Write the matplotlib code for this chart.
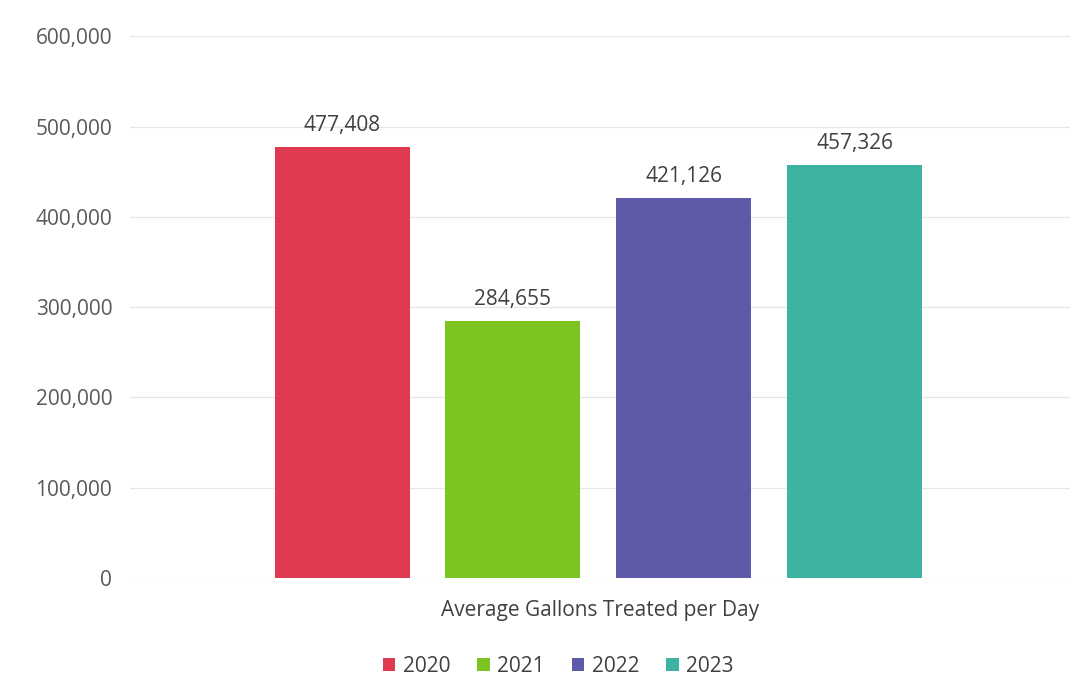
import matplotlib.pyplot as plt
from matplotlib.ticker import FuncFormatter

years = ['2020', '2021', '2022', '2023']
gallons = [477408, 284655, 421126, 457326]
colors = ['#DE3B53', '#7CC420', '#5E59A8', '#3DB3A2']

plt.rcParams['font.family'] = ['Open Sans', 'DejaVu Sans']

fig = plt.figure(figsize=(10.86, 6.99), dpi=100)
ax = fig.add_axes([0.12, 0.173, 0.865, 0.775])

x = range(len(years))
bars = ax.bar(x, gallons, width=0.79, color=colors, label=years, zorder=2)

for i, v in enumerate(gallons):
    ax.text(i, v + 12000, f'{v:,}', ha='center', va='bottom',
            fontsize=15, color='#404040')

ax.set_xlim(-1.24, 4.26)
ax.set_ylim(0, 600000)
ax.set_yticks(range(0, 600001, 100000))
ax.yaxis.set_major_formatter(FuncFormatter(lambda v, p: f'{int(v):,}'))
ax.tick_params(axis='y', length=0, pad=13, labelsize=15, labelcolor='#595959')
ax.set_xticks([])
ax.grid(axis='y', color='#E6E6E6', linewidth=0.9, zorder=0)
for s in ax.spines.values():
    s.set_visible(False)

ax.set_xlabel('Average Gallons Treated per Day', fontsize=15,
              color='#404040', labelpad=16)

fig.legend(handles=list(bars), labels=years, loc='center',
           bbox_to_anchor=(0.514, 1 - 666 / 699), ncol=4, frameon=False,
           fontsize=15, handlelength=0.6, handleheight=0.6,
           handletextpad=0.35, columnspacing=1.3, labelcolor='#404040')

fig.savefig('out.png', dpi=100)
